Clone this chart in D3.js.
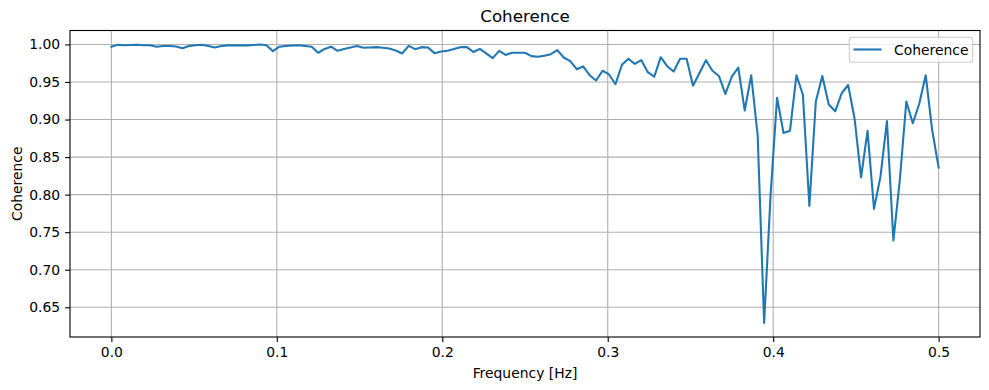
<!DOCTYPE html>
<html>
<head>
<meta charset="utf-8">
<script src="https://cdn.jsdelivr.net/npm/d3@7"></script>
<style>
  html, body { margin: 0; padding: 0; background: #fff; }
  svg { display: block; font-family: "DejaVu Sans", sans-serif; }
</style>
</head>
<body>
<svg id="chart" width="989" height="390"></svg>
<script>
// ---- Data ----
const nPoints = 129;            // frequencies k/256, k = 0..128
const fs = 1.0;
const nperseg = 256;
const coherence = [
  0.997, 0.9995, 0.999, 0.9993, 0.9995, 0.999, 0.999, 0.997, 0.998, 0.998,
  0.9973, 0.995, 0.998, 0.999, 0.9995, 0.998, 0.996, 0.998, 0.9987, 0.9987,
  0.9987, 0.9987, 0.9993, 1.000, 0.999, 0.991, 0.997, 0.998, 0.9985, 0.999,
  0.998, 0.997, 0.9889, 0.994, 0.997, 0.9915, 0.994, 0.996, 0.998, 0.9955,
  0.996, 0.9964, 0.9955, 0.9946, 0.992, 0.988, 0.998, 0.9937, 0.9964, 0.996,
  0.9884, 0.9906, 0.9915, 0.994, 0.9964, 0.9964, 0.990, 0.994, 0.988, 0.9817,
  0.9915, 0.986, 0.989, 0.989, 0.9889, 0.9844, 0.9835, 0.985, 0.987, 0.9924,
  0.9826, 0.9778, 0.967, 0.9707, 0.959, 0.952, 0.965, 0.960, 0.947, 0.973,
  0.981, 0.974, 0.979, 0.963, 0.957, 0.983, 0.971, 0.964, 0.981, 0.981,
  0.945, 0.962, 0.979, 0.965, 0.958, 0.934, 0.957, 0.969, 0.912, 0.959,
  0.879, 0.629, 0.80, 0.929, 0.882, 0.885, 0.959, 0.933, 0.785, 0.924,
  0.958, 0.920, 0.911, 0.935, 0.946, 0.901, 0.823, 0.885, 0.781, 0.824,
  0.898, 0.739, 0.82, 0.924, 0.895, 0.921, 0.959, 0.886, 0.836
];
const frequency = coherence.map((_, k) => k * fs / nperseg);
const xTicks = [0.0, 0.1, 0.2, 0.3, 0.4, 0.5];
const yTicks = [0.65, 0.70, 0.75, 0.80, 0.85, 0.90, 0.95, 1.00];
const titleText = "Coherence";
const xLabel = "Frequency [Hz]";
const yLabel = "Coherence";
const seriesName = "Coherence";

// ---- Layout ----
const W = 989, H = 390;
const plot = { left: 70, right: 980, top: 30.5, bottom: 337 };
const color = "#1f77b4";

const svg = d3.select("#chart");

// matplotlib-like autoscale with 5% margins
const xExt = d3.extent(frequency), yExt = d3.extent(coherence);
const xm = (xExt[1] - xExt[0]) * 0.05, ym = (yExt[1] - yExt[0]) * 0.05;
const x = d3.scaleLinear().domain([xExt[0] - xm, xExt[1] + xm]).range([plot.left, plot.right]);
const y = d3.scaleLinear().domain([yExt[0] - ym, yExt[1] + ym]).range([plot.bottom, plot.top]);

// grid
const grid = svg.append("g").attr("stroke", "#b0b0b0").attr("stroke-width", 1.1);
grid.selectAll("line.vx").data(xTicks).join("line")
  .attr("x1", d => x(d)).attr("x2", d => x(d))
  .attr("y1", plot.top).attr("y2", plot.bottom);
grid.selectAll("line.hy").data(yTicks).join("line")
  .attr("x1", plot.left).attr("x2", plot.right)
  .attr("y1", d => y(d)).attr("y2", d => y(d));

// line (clipped)
svg.append("clipPath").attr("id", "clip").append("rect")
  .attr("x", plot.left).attr("y", plot.top)
  .attr("width", plot.right - plot.left).attr("height", plot.bottom - plot.top);
const line = d3.line().x((d, i) => x(frequency[i])).y(d => y(d));
svg.append("path").datum(coherence)
  .attr("clip-path", "url(#clip)")
  .attr("fill", "none").attr("stroke", color).attr("stroke-width", 2.08)
  .attr("stroke-linejoin", "round").attr("stroke-linecap", "square")
  .attr("d", line);

// axes
const xAxis = d3.axisBottom(x).tickValues(xTicks).tickFormat(d3.format(".1f"))
  .tickSizeInner(4.9).tickSizeOuter(0).tickPadding(4.9);
const yAxis = d3.axisLeft(y).tickValues(yTicks).tickFormat(d3.format(".2f"))
  .tickSizeInner(4.9).tickSizeOuter(0).tickPadding(4.9);

const gx = svg.append("g").attr("transform", `translate(0,${plot.bottom})`).call(xAxis);
const gy = svg.append("g").attr("transform", `translate(${plot.left},0)`).call(yAxis);
[gx, gy].forEach(g => {
  g.select(".domain").remove();
  g.selectAll(".tick line").attr("stroke", "#000").attr("stroke-width", 1.1);
  g.selectAll(".tick text").attr("fill", "#000")
    .style("font-family", "DejaVu Sans").style("font-size", "13.9px");
});
gx.selectAll(".tick text").attr("dy", "0.71em");

// spines
svg.append("rect")
  .attr("x", plot.left).attr("y", plot.top)
  .attr("width", plot.right - plot.left).attr("height", plot.bottom - plot.top)
  .attr("fill", "none").attr("stroke", "#000").attr("stroke-width", 1.1);

// title and labels
const cx = (plot.left + plot.right) / 2;
svg.append("text").attr("x", cx).attr("y", 21.5).attr("text-anchor", "middle")
  .style("font-size", "16.7px").attr("fill", "#000").text(titleText);
svg.append("text").attr("x", cx).attr("y", 377.5).attr("text-anchor", "middle")
  .style("font-size", "13.9px").attr("fill", "#000").text(xLabel);
svg.append("text")
  .attr("transform", `translate(22,${(plot.top + plot.bottom) / 2}) rotate(-90)`)
  .attr("text-anchor", "middle")
  .style("font-size", "13.9px").attr("fill", "#000").text(yLabel);

// legend
const lg = svg.append("g");
lg.append("rect").attr("x", 849.3).attr("y", 37.3).attr("width", 123.4).attr("height", 25)
  .attr("rx", 2.8).attr("fill", "#fff").attr("fill-opacity", 0.8)
  .attr("stroke", "#cccccc").attr("stroke-width", 1.1);
lg.append("line").attr("x1", 853.5).attr("x2", 881.5).attr("y1", 49.5).attr("y2", 49.5)
  .attr("stroke", color).attr("stroke-width", 2.08);
lg.append("text").attr("x", 894).attr("y", 54.5)
  .style("font-size", "13.9px").attr("fill", "#000").text(seriesName);
</script>
</body>
</html>
